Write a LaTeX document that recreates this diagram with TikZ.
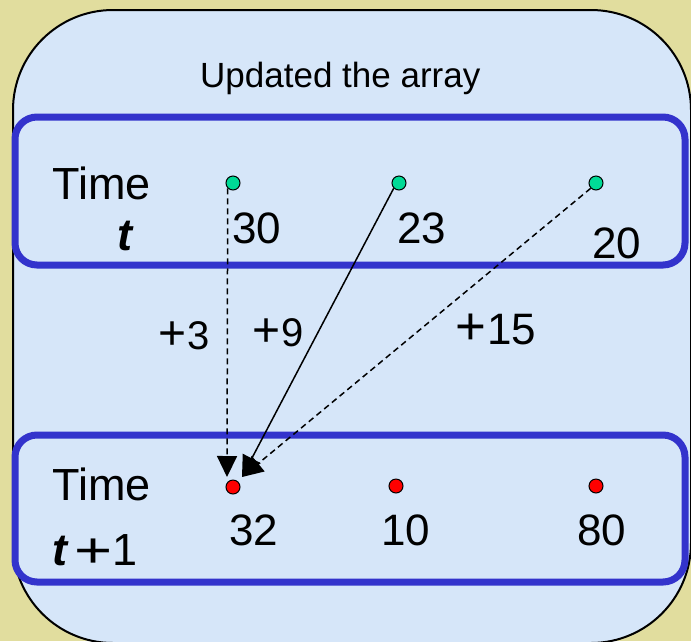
\documentclass[tikz,border=0pt]{standalone}
\usepackage{fontspec}
\setmainfont{Liberation Sans}
\usetikzlibrary{arrows.meta}
\definecolor{bgbeige}{RGB}{225,221,158}
\definecolor{paleblue}{RGB}{214,230,249}
\definecolor{boxblue}{RGB}{51,51,204}
\definecolor{dotgreen}{RGB}{0,218,150}
\definecolor{dotred}{RGB}{255,0,0}
\newcommand\myplus{\scalebox{1.2}{+}\kern1pt}
\newcommand\wideplus{\raisebox{-2pt}{\scalebox{1.45}[1.1]{+}}}
\tikzset{
  panel/.style={draw=boxblue,line width=7pt,rounded corners=22pt},
  gdot/.style={circle,draw=black,line width=1pt,fill=dotgreen,minimum size=14pt,inner sep=0pt},
  rdot/.style={circle,draw=black,line width=1pt,fill=dotred,minimum size=14pt,inner sep=0pt},
  lbl/.style={anchor=base west,inner sep=0pt,font=\fontsize{45}{50}\selectfont},
  num/.style={anchor=base west,inner sep=0pt,font=\fontsize{44}{50}\selectfont},
  inc/.style={anchor=base west,inner sep=0pt,font=\fontsize{40}{46}\selectfont},
  conn/.style={line width=1.5pt,-{Triangle[length=21pt,width=20pt]}},
  dashconn/.style={conn,dash pattern=on 6pt off 4pt}
}
\begin{document}
\begin{tikzpicture}[x=1pt,y=-1pt]
\useasboundingbox (0,0) rectangle (691,641);
\fill[bgbeige] (0,0) rectangle (691,641);
\draw[fill=paleblue,line width=2pt,rounded corners=100pt] (13,10) rectangle (691,643);
% panels
\draw[panel] (15,117) rectangle (685,265);
\draw[panel] (15,435) rectangle (685,582);
% title
\node[anchor=base west,inner sep=0pt,font=\fontsize{35}{40}\selectfont] (title) at (200,87) {Updated the array};
% row labels
\node[lbl] (time1) at (52,199) {Time};
\node[lbl] (tlab) at (117,250) {\bfseries\itshape t};
\node[lbl] (time2) at (52,500) {Time};
\node[lbl] (t1lab) at (52,565) {{\bfseries\itshape t}\,\wideplus1};
% dots
\node[gdot] (g1) at (233,183) {};
\node[gdot] (g2) at (399,183) {};
\node[gdot] (g3) at (596,183) {};
\node[rdot] (r1) at (233,487) {};
\node[rdot] (r2) at (396,486) {};
\node[rdot] (r3) at (596,486) {};
% values
\node[num] (v30) at (232,243) {30};
\node[num] (v23) at (397,243) {23};
\node[num] (v20) at (592,258) {20};
\node[num] (v32) at (229,545) {32};
\node[num] (v10) at (381,545) {10};
\node[num] (v80) at (577,545) {80};
% increments
\node[inc] (p3) at (158,349) {\myplus3};
\node[inc] (p9) at (252,346) {\myplus9};
\node[num] (p15) at (455,344) {\myplus15};
% arrows
\coordinate (tipA) at (227,477);
\coordinate (tipB) at (242,477);
\draw[dashconn] (g1.south west) -- (tipA);
\draw[conn] (g2.south west) -- (tipB);
\draw[dashconn] (g3.south west) -- (tipB);
\end{tikzpicture}
\end{document}
